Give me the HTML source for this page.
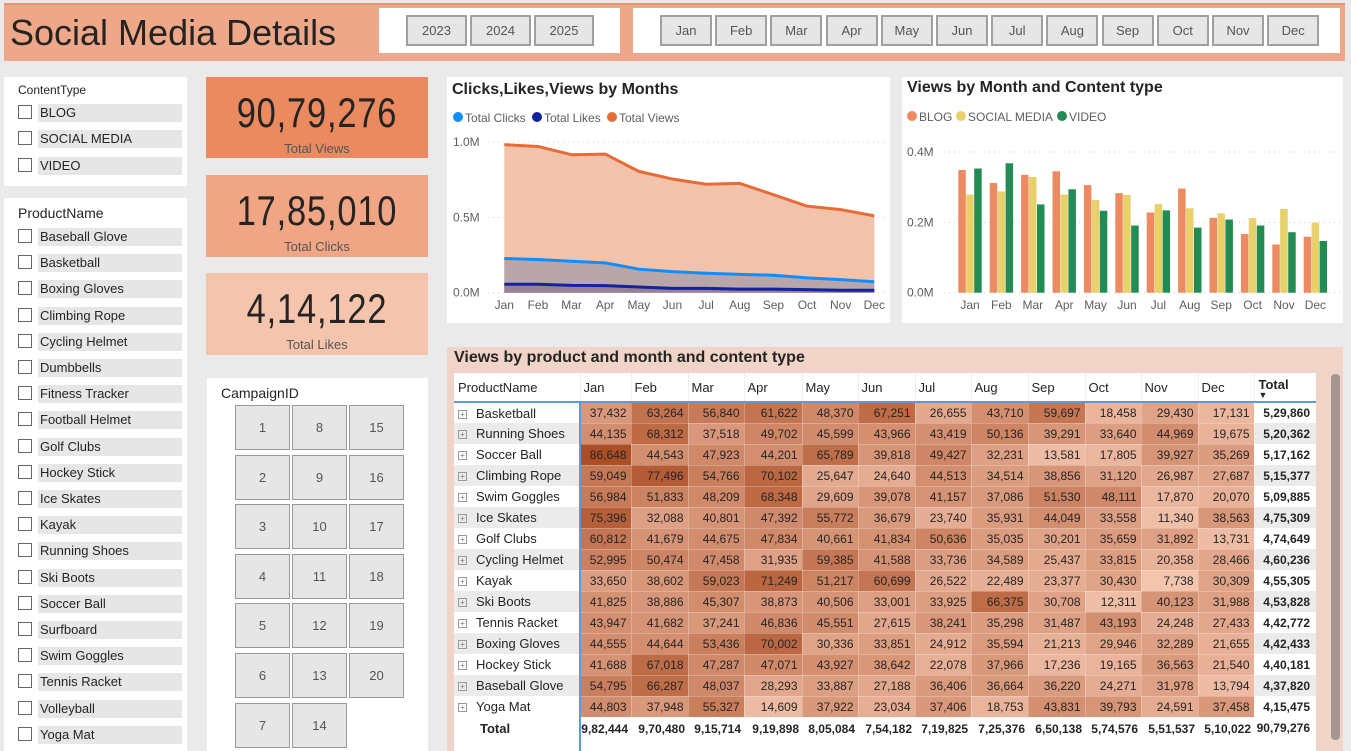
<!DOCTYPE html>
<html><head><meta charset="utf-8">
<style>
*{box-sizing:border-box;margin:0;padding:0}
body{width:1351px;height:751px;overflow:hidden;background:#eaeaea;font-family:"Liberation Sans",sans-serif;color:#252423;position:relative}
.abs{position:absolute}
.btn{position:absolute;background:#e6e6e6;border:2px solid #a0a0a0;font-size:13px;color:#555;display:flex;align-items:center;justify-content:center}
.panel{position:absolute;background:#fff}
.chk{position:absolute;width:14px;height:14px;border:1px solid #666;background:#fff}
.item{position:absolute;background:#e6e6e6;font-size:13px;color:#252423;padding-left:2px;height:18px;line-height:18px}
.kpi{position:absolute;left:206px;width:222px;text-align:center}
.kpi .v{font-size:42px;color:#252423;margin-top:12px;transform:scaleX(0.82);letter-spacing:1px}
.kpi .l{font-size:13px;color:#555;margin-top:4px}
table{border-collapse:collapse;font-size:13px}
</style></head><body>
<div class="abs" style="left:4px;top:3px;width:1341px;height:58px;background:#eea889;border-top:2px solid #e39576"></div>
<div class="abs" style="left:10px;top:12px;font-size:36px;color:#252423">Social Media Details</div>
<div class="panel" style="left:379px;top:8px;width:241px;height:45px"></div>
<div class="btn" style="left:406px;top:15px;width:61px;height:31px">2023</div>
<div class="btn" style="left:470px;top:15px;width:61px;height:31px">2024</div>
<div class="btn" style="left:534px;top:15px;width:60px;height:31px">2025</div>
<div class="panel" style="left:633px;top:8px;width:707px;height:45px"></div>
<div id="months"></div>

<div class="panel" style="left:4px;top:77px;width:183px;height:109px">
<div class="abs" style="left:14px;top:6px;font-size:12px">ContentType</div>
</div>
<div id="ct"></div>
<div class="panel" style="left:4px;top:198px;width:183px;height:553px">
<div class="abs" style="left:14px;top:7px;font-size:14px">ProductName</div>
</div>
<div id="pn"></div>

<div class="kpi" style="top:77px;height:81px;background:#eb8a5f"><div class="v">90,79,276</div><div class="l">Total Views</div></div>
<div class="kpi" style="top:175px;height:82px;background:#f0a585"><div class="v">17,85,010</div><div class="l">Total Clicks</div></div>
<div class="kpi" style="top:273px;height:82px;background:#f5c4ad"><div class="v">4,14,122</div><div class="l">Total Likes</div></div>

<div class="panel" style="left:207px;top:378px;width:221px;height:373px">
<div class="abs" style="left:14px;top:7px;font-size:14px">CampaignID</div></div>
<div id="camp"></div>

<div class="panel" style="left:447px;top:77px;width:443px;height:246px"></div>
<svg class="abs" style="left:0;top:0" width="1351" height="751" id="lc"></svg>

<div class="panel" style="left:447px;top:347px;width:896px;height:404px;background:#f0d4c8">
<div class="abs" style="left:7px;top:2px;font-size:16px;font-weight:bold;color:#252423">Views by product and month and content type</div></div>
<div class="abs" style="left:1331px;top:374px;width:9px;height:366px;background:#a39690;border-radius:4px"></div>
<div class="abs" id="tbl" style="left:454px;top:373px;width:862px;height:378px;overflow:hidden"></div>

<script>
const months=['Jan','Feb','Mar','Apr','May','Jun','Jul','Aug','Sep','Oct','Nov','Dec'];
const totalViews=[982444,970480,915714,919898,805084,754182,719825,725376,650138,574576,551537,510022];
const totalClicks=[227000,220000,209000,198000,156000,140000,129000,122000,116000,98000,87000,73000];
const totalLikes=[56000,56000,49000,47000,38000,29000,29000,24000,24000,20000,16000,16000];
const blogViews=[349000,312000,335000,345000,306000,283000,228000,296000,213000,167000,137000,159000];
const socialViews=[279000,288000,329000,279000,264000,278000,252000,240000,226000,212000,238000,199000];
const videoViews=[353000,368000,251000,294000,233000,191000,234000,185000,208000,191000,172000,147000];
const products=['Basketball','Running Shoes','Soccer Ball','Climbing Rope','Swim Goggles','Ice Skates','Golf Clubs','Cycling Helmet','Kayak','Ski Boots','Tennis Racket','Boxing Gloves','Hockey Stick','Baseball Glove','Yoga Mat'];
const cells=[
[37432,63264,56840,61622,48370,67251,26655,43710,59697,18458,29430,17131],
[44135,68312,37518,49702,45599,43966,43419,50136,39291,33640,44969,19675],
[86648,44543,47923,44201,65789,39818,49427,32231,13581,17805,39927,35269],
[59049,77496,54766,70102,25647,24640,44513,34514,38856,31120,26987,27687],
[56984,51833,48209,68348,29609,39078,41157,37086,51530,48111,17870,20070],
[75396,32088,40801,47392,55772,36679,23740,35931,44049,33558,11340,38563],
[60812,41679,44675,47834,40661,41834,50636,35035,30201,35659,31892,13731],
[52995,50474,47458,31935,59385,41588,33736,34589,25437,33815,20358,28466],
[33650,38602,59023,71249,51217,60699,26522,22489,23377,30430,7738,30309],
[41825,38886,45307,38873,40506,33001,33925,66375,30708,12311,40123,31988],
[43947,41682,37241,46836,45551,27615,38241,35298,31487,43193,24248,27433],
[44555,44644,53436,70002,30336,33851,24912,35594,21213,29946,32289,21655],
[41688,67018,47287,47071,43927,38642,22078,37966,17236,19165,36563,21540],
[54795,66287,48037,28293,33887,27188,36406,36664,36220,24271,31978,13794],
[44803,37948,55327,14609,37922,23034,37406,18753,43831,39793,24591,37458]];
const rowTotals=[529860,520362,517162,515377,509885,475309,474649,460236,455305,453828,442772,442433,440181,437820,415475];
const grandTotal=9079276;
const contentTypes=['BLOG','SOCIAL MEDIA','VIDEO'];
const productList=['Baseball Glove','Basketball','Boxing Gloves','Climbing Rope','Cycling Helmet','Dumbbells','Fitness Tracker','Football Helmet','Golf Clubs','Hockey Stick','Ice Skates','Kayak','Running Shoes','Ski Boots','Soccer Ball','Surfboard','Swim Goggles','Tennis Racket','Volleyball','Yoga Mat'];

function inr(n){let s=String(n);if(s.length<=3)return s;let last=s.slice(-3),rest=s.slice(0,-3);rest=rest.replace(/\B(?=(\d{2})+(?!\d))/g,',');return rest+','+last;}

const mb=document.getElementById('months');
months.forEach((m,i)=>{const d=document.createElement('div');d.className='btn';d.style.left=(660+i*55.2)+'px';d.style.top='15px';d.style.width='52px';d.style.height='31px';d.textContent=m;


mb.appendChild(d);});
const ct=document.getElementById('ct');
contentTypes.forEach((c,i)=>{const y=104+i*26.3;
const b=document.createElement('div');b.className='chk';b.style.left='18px';b.style.top=(y+1)+'px';


ct.appendChild(b);
const t=document.createElement('div');t.className='item';t.style.left='38px';t.style.top=y+'px';t.style.width='144px';t.textContent=c;


ct.appendChild(t);});
const pn=document.getElementById('pn');
productList.forEach((c,i)=>{const y=228+i*26.2;
const b=document.createElement('div');b.className='chk';b.style.left='18px';b.style.top=(y+1)+'px';


pn.appendChild(b);
const t=document.createElement('div');t.className='item';t.style.left='38px';t.style.top=y+'px';t.style.width='144px';t.textContent=c;


pn.appendChild(t);});
const cp=document.getElementById('camp');
for(let id=1;id<=20;id++){const col=Math.floor((id-1)/7),row=(id-1)%7;
const d=document.createElement('div');d.className='btn';d.style.border='1px solid #999';d.style.left=(235+col*57)+'px';d.style.top=(405+row*49.6)+'px';d.style.width='55px';d.style.height='45px';d.textContent=id;


cp.appendChild(d);}

const svg=document.getElementById('lc');const NS='http://www.w3.org/2000/svg';
function el(tag,attrs,txt){const e=document.createElementNS(NS,tag);for(const k in attrs)e.setAttribute(k,attrs[k]);if(txt!==undefined)e.textContent=txt;svg.appendChild(e);return e;}
const lx=i=>504.3+i*(370/11), ly=v=>292.7-v/1e6*150.7;
let t=el('text',{x:452,y:94,'font-size':16,'font-weight':'bold',fill:'#252423'},'Clicks,Likes,Views by Months');

const lleg=[['Total Clicks','#118dff',453],['Total Likes','#12239e',532],['Total Views','#e66c37',607]];
lleg.forEach(l=>{let c=el('circle',{cx:l[2]+5,cy:117,r:5,fill:l[1]});
let tt=el('text',{x:l[2]+12,y:122,'font-size':12,fill:'#605e5c'},l[0]);});
[0,0.5,1].forEach(v=>{let g=el('line',{x1:488,x2:885,y1:ly(v*1e6),y2:ly(v*1e6),stroke:'#ccc','stroke-dasharray':'1 4'});
let tl=el('text',{x:453,y:ly(v*1e6)+4,'font-size':12,fill:'#605e5c'},v.toFixed(1)+'M');});
months.forEach((m,i)=>{let tx=el('text',{x:lx(i),y:309,'font-size':12,fill:'#605e5c','text-anchor':'middle'},m);});
function area(arr,fill,stroke,name){
 let d='M'+lx(0)+','+ly(0);arr.forEach((v,i)=>d+=' L'+lx(i)+','+ly(v));d+=' L'+lx(11)+','+ly(0)+'Z';
 let a=el('path',{d:d,fill:fill});
 let p='';arr.forEach((v,i)=>p+=(i?' L':'M')+lx(i)+','+ly(v));
 let l=el('path',{d:p,fill:'none',stroke:stroke,'stroke-width':3,'stroke-linejoin':'round'});}
area(totalViews,'#f3c2ab','#e66c37','views');
area(totalClicks,'#b9a6a9','#118dff','clicks');
area(totalLikes,'#9a8096','#12239e','likes');

let bp=el('rect',{x:902,y:77,width:441,height:246,fill:'#fff'});
const bx=i=>970+i*31.4, by=v=>292.7-v/400000*140.7;
t=el('text',{x:907,y:92,'font-size':16,'font-weight':'bold',fill:'#252423'},'Views by Month and Content type');

const bleg=[['BLOG','#ec8b62',907],['SOCIAL MEDIA','#e8d06a',956],['VIDEO','#238b54',1057]];
bleg.forEach(l=>{let c=el('circle',{cx:l[2]+5,cy:116,r:5,fill:l[1]});
let tt=el('text',{x:l[2]+12,y:121,'font-size':12,fill:'#605e5c'},l[0]);});
[0,0.2,0.4].forEach(v=>{let g=el('line',{x1:944,x2:1340,y1:by(v*1e6),y2:by(v*1e6),stroke:'#ccc','stroke-dasharray':'1 4'});
let tl=el('text',{x:907,y:by(v*1e6)+4,'font-size':12,fill:'#605e5c'},v.toFixed(1)+'M');});
months.forEach((m,i)=>{let tx=el('text',{x:bx(i),y:309,'font-size':12,fill:'#605e5c','text-anchor':'middle'},m);});
[[blogViews,'#ec8b62',-11.7,'blog'],[socialViews,'#e8d06a',-3.8,'social'],[videoViews,'#238b54',4.2,'video']].forEach(s=>{
 s[0].forEach((v,i)=>{let r=el('rect',{x:bx(i)+s[2],y:by(v),width:7.5,height:by(0)-by(v),fill:s[1]});
 });});

const colW=[126,51,57,56,58,56,57,56,57,57,56,57,56,62];
function heat(v){const lo=[244,198,176],hi=[172,78,37];let f=Math.max(0,Math.min(1,(v-7000)/(87000-7000)));
return 'rgb('+lo.map((c,k)=>Math.round(c+(hi[k]-c)*f)).join(',')+')';}
let h='<table style="table-layout:fixed;width:862px"><colgroup>'+colW.map(w=>'<col style="width:'+w+'px">').join('')+'</colgroup>';
h+='<tr style="height:29px;background:#fff;border-bottom:2px solid #5a9be0"><td style="padding-left:4px;border-right:1px solid #eee">ProductName</td>'+months.map(m=>'<td style="padding-left:3px;border-right:1px solid #eee">'+m+'</td>').join('')+'<td style="padding-left:4px;font-weight:bold">Total<div style="font-size:9px;line-height:6px">&#9660;</div></td></tr>';
products.forEach((p,r)=>{const bg=r%2?'#ebebeb':'#fff';
h+='<tr style="height:21px"><td style="background:'+bg+';padding-left:4px;border-right:2px solid #5a9be0;white-space:nowrap"><span style="display:inline-block;width:9px;height:9px;border:1px solid #999;font-size:8px;line-height:7px;text-align:center;color:#777;margin-right:9px;vertical-align:1px">+</span>'+p+'</td>';
cells[r].forEach(v=>{h+='<td style="background:'+heat(v)+';text-align:right;padding-right:4px;font-size:12px;border:1px solid rgba(255,255,255,0.25)">'+inr(v)+'</td>';});
h+='<td style="background:'+bg+';text-align:right;padding-right:6px;font-weight:bold;font-size:12px">'+inr(rowTotals[r])+'</td></tr>';});
h+='<tr style="height:34px;background:#fff;vertical-align:top"><td style="padding-left:26px;font-weight:bold;padding-top:4px;border-right:2px solid #5a9be0">Total</td>'+totalViews.map(v=>'<td style="text-align:right;padding-right:3px;font-weight:bold;font-size:12px;padding-top:4px;word-break:break-all;line-height:15px">'+inr(v)+'</td>').join('')+'<td style="text-align:right;padding-right:6px;font-weight:bold;font-size:12px;padding-top:4px">'+inr(grandTotal)+'</td></tr></table>';
document.getElementById('tbl').innerHTML=h;
</script>
</body></html>
